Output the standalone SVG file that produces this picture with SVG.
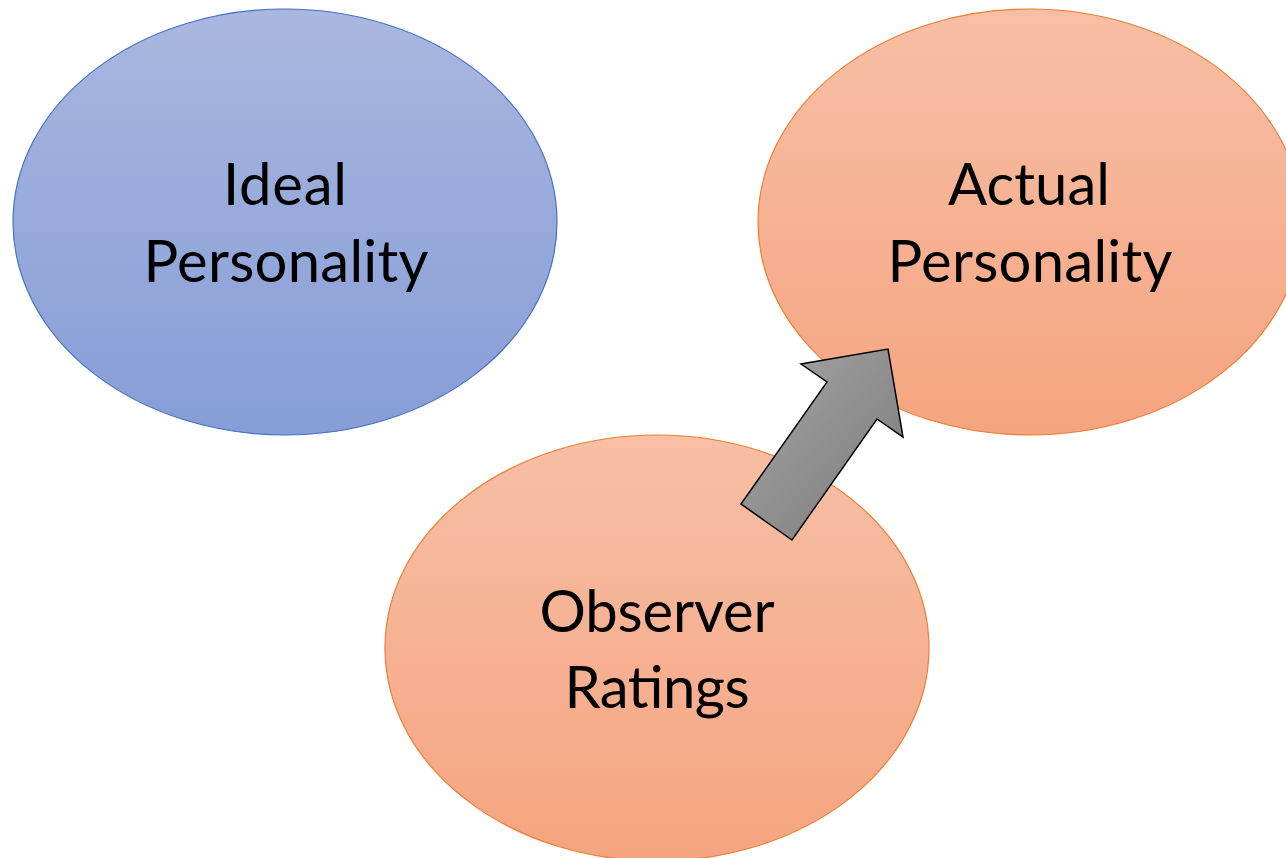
<svg xmlns="http://www.w3.org/2000/svg" width="1286" height="858" viewBox="0 0 1286 858">
  <defs>
    <linearGradient id="blueFill" x1="0" y1="0" x2="0" y2="1">
      <stop offset="0" stop-color="#A9B7E0"/>
      <stop offset="1" stop-color="#869DD6"/>
    </linearGradient>
    <linearGradient id="orangeFill" x1="0" y1="0" x2="0" y2="1">
      <stop offset="0" stop-color="#F7BFA5"/>
      <stop offset="1" stop-color="#F5A480"/>
    </linearGradient>
    <linearGradient id="grayFill" x1="0" y1="0" x2="1" y2="1">
      <stop offset="0" stop-color="#A6A6A6"/>
      <stop offset="1" stop-color="#7A7A7A"/>
    </linearGradient>
    <style>
      .blue { fill: url(#blueFill); stroke: #4472C4; stroke-width: 1.2; }
      .orange { fill: url(#orangeFill); stroke: #ED7D31; stroke-width: 1.2; }
      .label { font-family: "Lato", "Open Sans", sans-serif; font-size: 58px; fill: #000000; text-anchor: middle; }
      .arrow { fill: url(#grayFill); stroke: #000000; stroke-width: 1.5; stroke-linejoin: miter; }
    </style>
  </defs>
  <rect width="1286" height="858" fill="#FFFFFF"/>

  <g id="ideal-personality">
    <ellipse class="blue" cx="285" cy="222" rx="272" ry="213"/>
    <text class="label" x="285" y="205" textLength="124">Ideal</text>
    <text class="label" x="286" y="282" textLength="285">Personality</text>
  </g>

  <g id="actual-personality">
    <ellipse class="orange" cx="1030" cy="222" rx="272" ry="213"/>
    <text class="label" x="1029" y="205" textLength="162">Actual</text>
    <text class="label" x="1030" y="282" textLength="285">Personality</text>
  </g>

  <g id="observer-ratings">
    <ellipse class="orange" cx="657" cy="648" rx="272" ry="213"/>
    <text class="label" x="657" y="632" textLength="235">Observer</text>
    <text class="label" x="657" y="708" textLength="185">Ratings</text>
  </g>

  <g id="connectors">
    <polygon class="arrow" points="741,504 827,382 801,364 888,349 903,437 877,419 792,540"/>
  </g>
</svg>
